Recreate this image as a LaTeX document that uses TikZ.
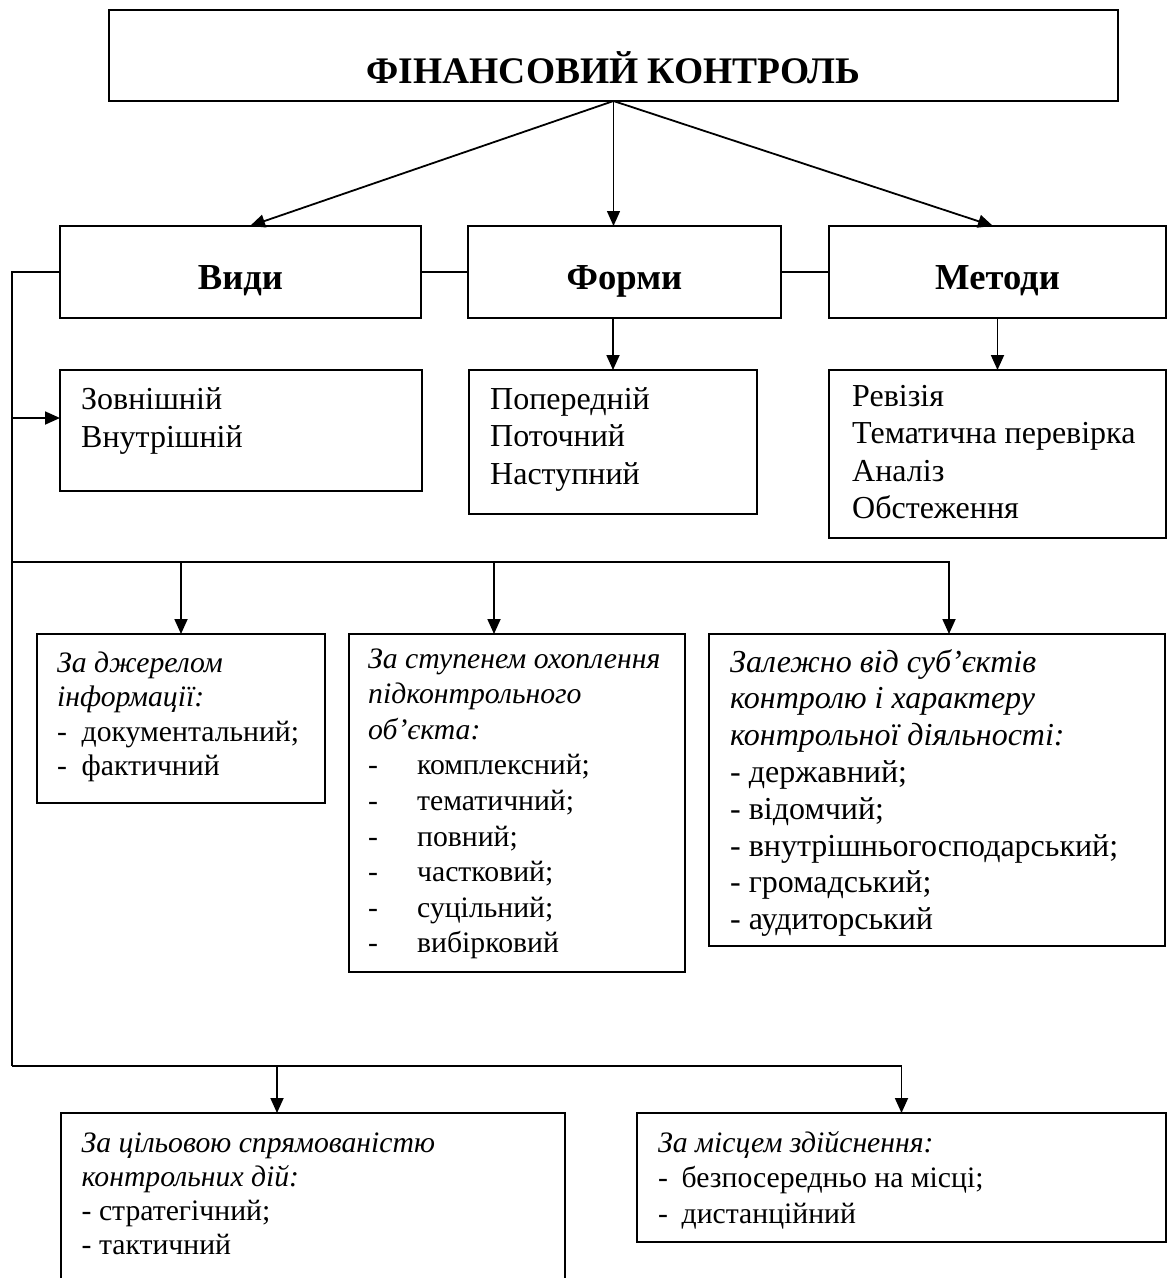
\documentclass[tikz,border=0pt]{standalone}
\usepackage{fontspec}
\setmainfont{Liberation Serif}
\usetikzlibrary{arrows.meta,fit}
\newcommand\dashitem[2]{\makebox[#1][l]{-}#2}
\begin{document}
\begin{tikzpicture}[x=1pt,y=-1pt,
  frame/.style={draw, line width=1.8pt, inner sep=0pt, outer sep=0pt},
  conn/.style={line width=1.8pt},
  arr/.style={conn, -{Triangle[length=15pt,width=13pt]}},
  head/.style={anchor=base, inner sep=0pt, font=\fontsize{36.6}{42}\selectfont\bfseries},
  body/.style={anchor=base west, inner sep=0pt, font=\fontsize{32}{36.8}\selectfont},
  small/.style={anchor=base west, inner sep=0pt, font=\fontsize{29.7}{34.2}\selectfont}
]
\useasboundingbox (0,0) rectangle (1168,1278);
\fill[white] (0,0) rectangle (1168,1278);

% frames
\node[frame, fit={(109,10) (1118,101)}] (fin) {};
\node[frame, fit={(60,226) (421,318)}] (vidy) {};
\node[frame, fit={(468,226) (781,318)}] (formy) {};
\node[frame, fit={(829,226) (1166,318)}] (metody) {};
\node[frame, fit={(60,370) (422,491)}] (zovn) {};
\node[frame, fit={(469,370) (757,514)}] (pop) {};
\node[frame, fit={(829,370) (1166,538)}] (rev) {};
\node[frame, fit={(37,634) (325,803)}] (r1) {};
\node[frame, fit={(349,634) (685,972)}] (r2) {};
\node[frame, fit={(709,634) (1165,946)}] (r3) {};
\node[frame, fit={(61,1113) (565,1300)}] (r4) {};
\node[frame, fit={(637,1113) (1166,1242)}] (r5) {};

% headings
\node[head, font=\fontsize{37.5}{42}\selectfont\bfseries] (tFin) at (613.5,83) {ФІНАНСОВИЙ КОНТРОЛЬ};
\node[head] (tVidy) at (240.5,289) {Види};
\node[head] (tFormy) at (624.5,289) {Форми};
\node[head] (tMetody) at (997.5,289) {Методи};

% body texts
\node[body] (tZovn) at (81,409) {\parbox[t]{320pt}{\baselineskip=38pt Зовнішній\\Внутрішній}};
\node[body] (tPop) at (490,409) {\parbox[t]{260pt}{\baselineskip=37.5pt Попередній\\Поточний\\Наступний}};
\node[body] (tRev) at (852,406) {\parbox[t]{310pt}{\baselineskip=37.5pt Ревізія\\Тематична перевірка\\Аналіз\\Обстеження}};
\node[small] (tR1) at (57,672) {\parbox[t]{260pt}{\baselineskip=34.5pt \textit{За джерелом}\\\textit{інформації:}\\\dashitem{24.5pt}{документальний;}\\\dashitem{24.5pt}{фактичний}}};
\node[small] (tR2) at (368,668) {\parbox[t]{310pt}{\baselineskip=35.6pt \textit{За ступенем охоплення}\\\textit{підконтрольного}\\\textit{об’єкта:}\\\dashitem{49pt}{комплексний;}\\\dashitem{49pt}{тематичний;}\\\dashitem{49pt}{повний;}\\\dashitem{49pt}{частковий;}\\\dashitem{49pt}{суцільний;}\\\dashitem{49pt}{вибірковий}}};
\node[body] (tR3) at (730,672) {\parbox[t]{430pt}{\baselineskip=36.8pt \textit{Залежно від суб’єктів}\\\textit{контролю і характеру}\\\textit{контрольної діяльності:}\\- державний;\\- відомчий;\\- внутрішньогосподарський;\\- громадський;\\- аудиторський}};
\node[small] (tR4) at (81.5,1152) {\parbox[t]{470pt}{\baselineskip=34pt \textit{За цільовою спрямованістю}\\\textit{контрольних дій:}\\- стратегічний;\\- тактичний}};
\node[small] (tR5) at (658,1152) {\parbox[t]{490pt}{\baselineskip=35.5pt \textit{За місцем здійснення:}\\\dashitem{23.5pt}{безпосередньо на місці;}\\\dashitem{23.5pt}{дистанційний}}};

% coordinates of the spine and arrow targets
\coordinate (zA) at (12,418);
\coordinate (b1) at (12,562);
\coordinate (b2) at (12,1066);
\coordinate (vidyT) at ([xshift=9.5pt]vidy.north);
\coordinate (metT) at ([xshift=-4.5pt]metody.north);
\coordinate (r2T) at ([xshift=-23pt]r2.north);
\coordinate (r3T) at ([xshift=12pt]r3.north);
\coordinate (r4T) at ([xshift=-36pt]r4.north);

% connectors from top
\draw[arr] (fin.south) -- (vidyT);
\draw[arr, line width=1.3pt] (fin.south) -- (fin.south |- formy.north);
\draw[arr] (fin.south) -- (metT);

% between middle boxes
\draw[conn] (vidy.east) -- (formy.west);
\draw[conn] (formy.east) -- (metody.west);
\draw[conn] (vidy.west) -| (b2);

% middle to sub boxes
\draw[arr] (zA) -- (zA -| zovn.west);
\draw[arr] (pop.north |- formy.south) -- (pop.north);
\draw[arr] (metody.south) -- (rev.north);

% branch at y=562
\draw[arr] (b1) -| (r3T);
\draw[arr] (b1 -| r1.north) -- (r1.north);
\draw[arr] (b1 -| r2T) -- (r2T);

% branch at y=1066
\draw[arr] (b2) -| (r5.north);
\draw[arr] (b2 -| r4T) -- (r4T);
\end{tikzpicture}
\end{document}
